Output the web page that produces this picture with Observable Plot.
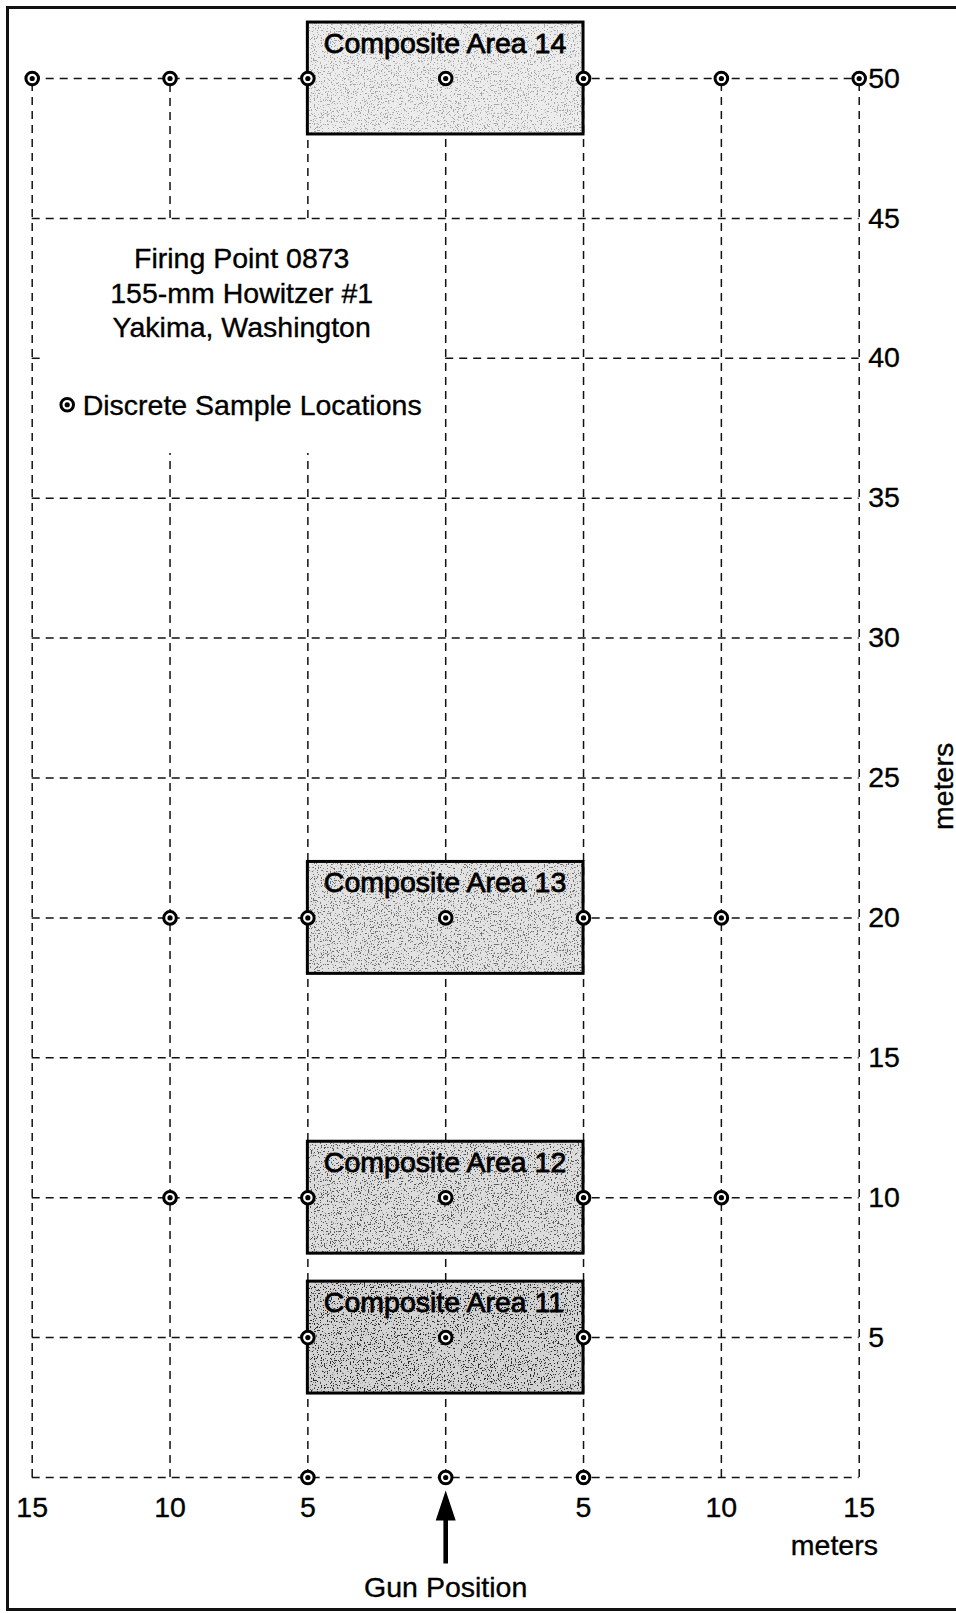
<!DOCTYPE html>
<html>
<head>
<meta charset="utf-8">
<script src="https://cdn.jsdelivr.net/npm/d3@7"></script>
<script src="https://cdn.jsdelivr.net/npm/@observablehq/plot@0.6"></script>
<style>
  html, body { margin: 0; padding: 0; background: #fff; overflow: hidden; width: 956px; height: 1613px; }
  #chart { position: absolute; left: 0; top: 0; }
  .edge { position: absolute; background: #111; pointer-events: none; }
  #edgeTop { left: 6px; top: 6px; width: 950px; height: 3px; }
  #edgeLeft { left: 6px; top: 6px; width: 3px; height: 1605px; }
  #edgeBottom { left: 6px; top: 1608px; width: 950px; height: 3px; }
</style>
</head>
<body>
<div id="chart"></div>
<div class="edge" id="edgeTop"></div>
<div class="edge" id="edgeLeft"></div>
<div class="edge" id="edgeBottom"></div>
<script>
// ---- data (meters) ----
const xTicks = [-15, -10, -5, 5, 10, 15];
const xTickLabels = ["15", "10", "5", "5", "10", "15"];
const yTicks = [50, 45, 40, 35, 30, 25, 20, 15, 10, 5];

// dashed grid: horizontal runs and vertical runs
const hLines = [
  {y: 50, x1: -15, x2: 15}, {y: 45, x1: -15, x2: 15},
  {y: 40, x1: 0, x2: 15}, {y: 40, x1: -15, x2: -14.7},
  {y: 35, x1: -15, x2: 15}, {y: 30, x1: -15, x2: 15},
  {y: 25, x1: -15, x2: 15}, {y: 20, x1: -15, x2: 15},
  {y: 15, x1: -15, x2: 15}, {y: 10, x1: -15, x2: 15},
  {y: 5, x1: -15, x2: 15}, {y: 0, x1: -15, x2: 15}
];
const vLines = [
  {x: -15, y1: 0, y2: 50},
  {x: -10, y1: 0, y2: 36.6}, {x: -10, y1: 45, y2: 50},
  {x: -5, y1: 0, y2: 36.6}, {x: -5, y1: 45, y2: 50},
  {x: 0, y1: 0, y2: 50},
  {x: 5, y1: 0, y2: 50}, {x: 10, y1: 0, y2: 50}, {x: 15, y1: 0, y2: 50}
];

// composite areas
const boxLabels = ["Composite Area 14", "Composite Area 13", "Composite Area 12", "Composite Area 11"];
const boxX1 = [-5, -5, -5, -5];
const boxX2 = [5, 5, 5, 5];
const boxBottom = [48, 18, 8, 3];
const boxTop = [52, 22, 12, 7];
const boxShade = ["#ececec", "#e2e2e2", "#dcdcdc", "#d2d2d2"];
const boxSpeck = [0.3, 0.5, 0.62, 0.8];
const boxes = boxLabels.map((label, i) => ({
  label, x1: boxX1[i], x2: boxX2[i], y1: boxBottom[i], y2: boxTop[i],
  shade: boxShade[i], speck: boxSpeck[i]
}));

// discrete sample locations
const sampleX = [-15, -10, -5, 0, 5, 10, 15,  -10, -5, 0, 5, 10,  -10, -5, 0, 5, 10,  -5, 0, 5,  -5, 0, 5];
const sampleY = [50, 50, 50, 50, 50, 50, 50,  20, 20, 20, 20, 20,  10, 10, 10, 10, 10,  5, 5, 5,  0, 0, 0];
const samples = sampleX.map((x, i) => ({x, y: sampleY[i]}));

// annotation text
const titleLines = ["Firing Point 0873", "155-mm Howitzer #1", "Yakima, Washington"];
const titleX = [-7.4, -7.4, -7.4];
const titleY = [43.24, 41.99, 40.77];
const titles = titleLines.map((t, i) => ({t, x: titleX[i], y: titleY[i]}));
const legend = [{t: "Discrete Sample Locations", x: -13.17, y: 37.98, dotX: -13.73, dotY: 38.34}];
const gun = [{x: 0, y: 0, t: "Gun Position"}];

const font = "'Liberation Sans', Arimo, Arial, Helvetica, sans-serif";

const arrowShape = {
  draw(context, l) {
    const head = 30, hw = 10, sw = 2.3;
    context.moveTo(-sw, 0);
    context.lineTo(-sw, -l + head);
    context.lineTo(-hw, -l + head);
    context.lineTo(0, -l);
    context.lineTo(hw, -l + head);
    context.lineTo(sw, -l + head);
    context.lineTo(sw, 0);
    context.closePath();
  }
};

const dash = {stroke: "#111", strokeWidth: 1.5, strokeDasharray: "8,6"};
const txt = {fill: "#000", stroke: "#000", strokeWidth: 0.35, fontSize: 28.5};
const ring = {r: 6.3, fill: "#fff", stroke: "#000", strokeWidth: 3};
const pip = {r: 2.6, fill: "#000", stroke: "none"};

const svg = Plot.plot({
  width: 956,
  height: 1613,
  marginLeft: 31.7,
  marginRight: 97.3,
  marginTop: 78,
  marginBottom: 136,
  x: {domain: [-15, 15], axis: null},
  y: {domain: [0, 50], axis: null},
  style: {background: "#fff", fontFamily: font, fontSize: "28.5px", color: "#000", overflow: "visible"},
  marks: [
    Plot.ruleY(hLines, {y: "y", x1: "x1", x2: "x2", ...dash}),
    Plot.ruleX(vLines, {x: "x", y1: "y1", y2: "y2", ...dash}),
    Plot.rect(boxes, {x1: "x1", x2: "x2", y1: "y1", y2: "y2", fill: "shade"}),
    Plot.rect(boxes, {x1: "x1", x2: "x2", y1: "y1", y2: "y2", fill: "url(#specks)", fillOpacity: "speck"}),
    Plot.rect(boxes, {x1: "x1", x2: "x2", y1: "y1", y2: "y2", fill: "none", stroke: "#000", strokeWidth: 3}),
    Plot.text(boxes, {x: "x1", y: "y2", text: "label", textAnchor: "start", lineAnchor: "bottom",
      dx: 16, dy: 30, fill: "#000", stroke: "#000", strokeWidth: 0.8, fontSize: 28.5}),
    Plot.dot(samples, {x: "x", y: "y", ...ring}),
    Plot.dot(samples, {x: "x", y: "y", ...pip}),
    Plot.text(yTicks, {x: 15, y: (d) => d, text: (d) => String(d), textAnchor: "start", dx: 9, ...txt}),
    Plot.text(xTicks, {x: (d) => d, y: 0, text: (d, i) => xTickLabels[i], lineAnchor: "bottom", dy: 39, ...txt}),
    Plot.text(["meters"], {x: 14.1, y: 0, text: (d) => d, lineAnchor: "bottom", dy: 77, ...txt}),
    Plot.text(["meters"], {x: 18.07, y: 24.7, text: (d) => d, rotate: -90, ...txt}),
    Plot.text(titles, {x: "x", y: "y", text: "t", lineAnchor: "bottom", ...txt}),
    Plot.text(legend, {x: "x", y: "y", text: "t", textAnchor: "start", lineAnchor: "bottom", ...txt}),
    Plot.dot(legend, {x: "dotX", y: "dotY", ...ring}),
    Plot.dot(legend, {x: "dotX", y: "dotY", ...pip}),
    Plot.vector(gun, {x: "x", y: "y", length: 73, rotate: 0, anchor: "end", shape: arrowShape,
      fill: "#000", stroke: "none", dy: 13}),
    Plot.text(gun, {x: "x", y: "y", text: "t", lineAnchor: "bottom", dy: 119, ...txt})
  ]
});

// stipple texture for the composite area fills
d3.select(svg).insert("defs", ":first-child").html(`
  <filter id="speckNoise" x="0" y="0" width="100%" height="100%">
    <feTurbulence type="fractalNoise" baseFrequency="0.7" numOctaves="3" seed="4" stitchTiles="stitch"/>
    <feColorMatrix type="matrix" values="0 0 0 0 0  0 0 0 0 0  0 0 0 0 0  -16 0 0 0 6.4"/>
  </filter>
  <pattern id="specks" patternUnits="userSpaceOnUse" width="280" height="120">
    <rect width="280" height="120" fill="#fff" filter="url(#speckNoise)"/>
  </pattern>`);

document.getElementById("chart").appendChild(svg);
</script>
</body>
</html>
